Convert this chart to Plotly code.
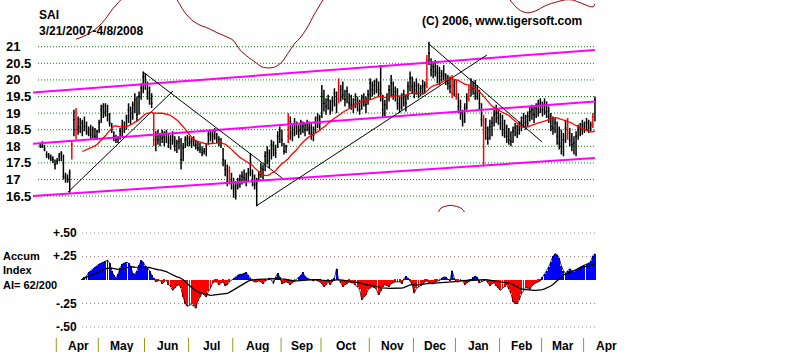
import plotly.graph_objects as go
import pandas as pd

# ---------------- data ----------------
high = [18.10, 18.15, 18.05, 17.85, 17.80, 17.75, 17.70, 17.60, 17.65, 17.80, 17.85, 17.75, 17.20, 17.15, 17.30, 18.15, 19.10, 19.15, 18.90, 18.85,
        18.80, 18.90, 18.75, 18.60, 18.65, 18.60, 18.55, 18.50, 18.80, 19.25, 19.30, 19.30, 19.25, 19.00, 18.70, 18.45, 18.35, 18.30, 18.55, 18.80,
        18.75, 18.95, 19.30, 19.20, 19.35, 19.60, 19.50, 19.65, 19.90, 20.25, 20.20, 19.95, 19.80, 19.60, 19.00, 18.45, 18.50, 18.40, 18.50, 18.45,
        18.50, 18.40, 18.35, 18.45, 18.30, 18.20, 18.30, 18.25, 18.10, 18.30, 18.35, 18.30, 18.25, 18.30, 18.20, 18.15, 18.10, 18.00, 17.95, 18.10,
        18.45, 18.50, 18.45, 18.55, 18.40, 18.30, 18.25, 17.95, 17.60, 17.45, 17.40, 17.20, 17.05, 16.95, 17.05, 17.15, 17.25, 17.30, 17.20, 17.35,
        17.80, 17.30, 17.15, 17.05, 17.25, 17.50, 17.45, 17.85, 18.00, 17.90, 18.20, 18.15, 18.05, 18.45, 18.60, 18.50, 18.10, 18.05, 19.00, 18.90,
        18.70, 18.85, 18.75, 18.65, 18.80, 18.75, 18.70, 18.80, 18.75, 18.70, 18.60, 18.90, 19.00, 18.95, 19.85, 19.70, 19.45, 19.55, 19.40, 19.50,
        19.75, 19.65, 20.05, 19.85, 19.95, 19.70, 19.80, 19.60, 19.55, 19.45, 19.60, 19.50, 19.40, 19.55, 19.60, 19.50, 19.70, 20.05, 19.95, 20.00,
        20.05, 19.95, 20.45, 19.55, 19.40, 19.60, 19.85, 20.15, 19.95, 19.80, 19.75, 19.50, 19.60, 19.70, 19.55, 19.95, 20.25, 20.10, 19.95, 20.05,
        19.90, 19.85, 20.00, 19.95, 20.75, 21.15, 20.65, 20.55, 20.60, 20.45, 20.40, 20.30, 20.45, 20.20, 20.15, 20.10,
        20.15, 20.00, 20.00, 19.60,
        19.40, 19.10, 19.30, 19.60, 19.85, 20.05, 19.95, 20.00, 19.85, 19.70, 19.30, 18.95, 18.85, 18.60, 18.80, 18.90, 19.10, 19.25, 19.15, 19.00,
        18.95, 18.80, 18.65, 18.55, 18.45, 18.60, 18.70, 18.65, 18.75, 18.90, 19.00, 18.95, 19.05, 19.20, 19.25, 19.20, 19.30, 19.40, 19.45, 19.35,
        19.45, 19.35, 19.20, 19.00, 18.90, 18.85, 18.75, 18.60, 18.50, 18.40, 18.80, 18.85, 18.55, 18.40, 18.30, 18.45, 18.65, 18.70, 18.80, 18.75,
        18.85, 18.80, 18.75, 19.00, 19.50]
low = [17.95, 17.95, 17.85, 17.65, 17.60, 17.55, 17.50, 17.30, 17.45, 17.55, 17.55, 17.00, 16.90, 16.90, 16.60, 17.60, 18.30, 18.20, 18.35, 18.40,
       18.30, 18.45, 18.35, 18.30, 18.20, 18.25, 18.20, 18.20, 18.40, 18.70, 18.85, 18.90, 18.75, 18.60, 18.40, 18.15, 18.10, 18.10, 18.20, 18.30,
       18.40, 18.50, 18.70, 18.65, 18.80, 19.00, 18.75, 18.95, 19.40, 19.60, 19.70, 19.40, 19.25, 19.15, 18.00, 17.85, 18.05, 18.00, 18.10, 18.00,
       18.10, 17.95, 17.90, 18.05, 17.85, 17.80, 17.90, 17.30, 17.55, 17.95, 18.00, 18.00, 17.95, 18.00, 17.90, 17.85, 17.80, 17.70, 17.75, 17.70,
       18.05, 18.15, 18.10, 18.20, 18.10, 18.00, 17.95, 17.40, 17.10, 16.80, 16.85, 16.70, 16.45, 16.40, 16.70, 16.75, 16.85, 16.90, 16.80, 16.95,
       17.10, 16.80, 16.70, 16.20, 16.95, 17.05, 17.00, 17.25, 17.45, 17.35, 17.60, 17.70, 17.65, 17.95, 18.10, 18.00, 17.75, 17.80, 18.10, 18.20,
       18.15, 18.30, 18.35, 18.25, 18.35, 18.40, 18.30, 18.45, 18.35, 18.20, 18.15, 18.40, 18.55, 18.50, 18.85, 19.05, 18.95, 19.10, 18.95, 19.05,
       19.20, 19.00, 19.30, 19.35, 19.40, 19.20, 19.30, 19.15, 19.10, 19.00, 19.15, 19.05, 18.95, 19.10, 19.20, 19.00, 19.25, 19.40, 19.50, 19.55,
       19.60, 19.50, 19.35, 18.85, 18.90, 19.10, 19.35, 19.50, 19.40, 19.35, 19.10, 19.00, 19.10, 19.20, 19.05, 19.40, 19.65, 19.60, 19.45, 19.55,
       19.45, 19.50, 19.55, 19.60, 19.75, 20.45, 20.10, 20.05, 20.10, 19.90, 19.85, 19.95, 20.00, 19.85, 19.70, 19.60,
       19.45, 19.50, 19.40, 19.00,
       18.80, 18.60, 18.70, 19.10, 19.35, 19.50, 19.55, 19.40, 19.40, 19.10, 18.60, 17.40, 18.20, 18.05, 18.20, 18.30, 18.60, 18.70, 18.65, 18.50,
       18.30, 18.25, 18.10, 18.05, 18.00, 18.10, 18.30, 18.25, 18.35, 18.45, 18.55, 18.50, 18.60, 18.75, 18.80, 18.70, 18.85, 18.90, 19.00, 18.90,
       18.95, 18.85, 18.70, 18.45, 18.35, 18.40, 18.05, 17.90, 17.75, 17.70, 18.10, 18.20, 18.00, 17.85, 17.75, 17.70, 18.20, 18.30, 18.35, 18.40,
       18.45, 18.40, 18.45, 18.55, 18.75]
close = [18.05, 18.00, 17.90, 17.75, 17.70, 17.65, 17.60, 17.45, 17.55, 17.70, 17.80, 17.10, 17.05, 17.00, 17.20, 18.05, 18.80, 18.50, 18.60, 18.55,
         18.70, 18.60, 18.45, 18.40, 18.35, 18.50, 18.30, 18.45, 18.70, 19.10, 19.20, 19.05, 18.95, 18.70, 18.50, 18.30, 18.20, 18.25, 18.45, 18.60,
         18.55, 18.85, 19.10, 18.90, 19.25, 19.40, 18.95, 19.50, 19.75, 20.10, 19.85, 19.60, 19.45, 19.30, 18.20, 18.30, 18.20, 18.35, 18.25, 18.30,
         18.40, 18.10, 18.20, 18.30, 18.00, 18.10, 18.15, 17.60, 17.95, 18.20, 18.25, 18.10, 18.15, 18.20, 18.05, 17.95, 17.90, 17.80, 17.85, 18.00,
         18.35, 18.40, 18.30, 18.45, 18.25, 18.20, 18.10, 17.60, 17.30, 16.95, 17.25, 16.90, 16.75, 16.80, 16.90, 17.00, 17.10, 17.05, 16.95, 17.20,
         17.50, 16.95, 16.85, 16.90, 17.15, 17.35, 17.30, 17.70, 17.80, 17.55, 18.05, 17.90, 17.80, 18.30, 18.45, 18.20, 17.85, 18.00, 18.30, 18.75,
         18.40, 18.65, 18.60, 18.45, 18.70, 18.60, 18.50, 18.70, 18.55, 18.40, 18.35, 18.75, 18.85, 18.70, 19.50, 19.30, 19.20, 19.40, 19.15, 19.35,
         19.60, 19.25, 19.45, 19.70, 19.55, 19.40, 19.65, 19.30, 19.25, 19.20, 19.40, 19.30, 19.10, 19.45, 19.35, 19.25, 19.55, 19.90, 19.70, 19.85,
         19.95, 19.70, 19.60, 19.10, 19.25, 19.45, 19.70, 19.90, 19.55, 19.65, 19.30, 19.20, 19.45, 19.55, 19.30, 19.80, 20.05, 19.80, 19.70, 19.85,
         19.60, 19.75, 19.80, 19.85, 20.60, 20.80, 20.30, 20.40, 20.25, 20.20, 20.10, 20.20, 20.15, 20.00, 19.90, 19.80,
         19.60, 19.80, 19.55, 19.20,
         19.00, 18.75, 19.15, 19.45, 19.70, 19.80, 19.75, 19.60, 19.70, 19.30, 18.80, 18.40, 18.55, 18.25, 18.60, 18.70, 18.95, 19.00, 18.85, 18.70,
         18.50, 18.40, 18.30, 18.20, 18.15, 18.45, 18.55, 18.40, 18.60, 18.75, 18.85, 18.70, 18.90, 19.05, 19.10, 18.95, 19.15, 19.25, 19.30, 19.10,
         19.25, 19.05, 18.90, 18.60, 18.55, 18.70, 18.30, 18.10, 18.00, 18.20, 18.55, 18.40, 18.20, 18.05, 18.10, 18.30, 18.50, 18.55, 18.65, 18.60,
         18.70, 18.55, 18.65, 18.90, 19.40]
red_bars = [15, 17, 54, 90, 118, 142, 184, 196, 198, 204, 211, 251, 263]

ai_start = 20
ai = [0.01, 0.03, 0.04, 0.08, 0.10, 0.12, 0.14, 0.15, 0.17, 0.18,
      0.19, 0.20, 0.21, 0.18, 0.10, 0.05, 0.02, 0.06, 0.13, 0.17,
      0.18, 0.19, 0.18, 0.15, 0.07, 0.06, 0.10, 0.16, 0.21, 0.19,
      0.15, 0.13, 0.10, 0.05, 0.02, -0.02, -0.01, 0.00, -0.04, -0.02,
      0.00, -0.05, -0.07, -0.11, -0.08, -0.06, -0.05, -0.09, -0.18, -0.25,
      -0.28, -0.27, -0.26, -0.28, -0.30, -0.22, -0.18, -0.14, -0.16, -0.18,
      -0.12, -0.09, -0.03, -0.02, -0.02, -0.05, -0.03, -0.02, -0.06, -0.05,
      -0.02, 0.00, 0.02, 0.035, 0.05, 0.06, 0.06, 0.07, 0.08, 0.05,
      0.02, -0.01, -0.02, -0.02, -0.01, -0.02, -0.04, -0.01, 0.00, 0.02,
      0.00, -0.04, 0.03, 0.07, 0.03, -0.04, -0.03, -0.02, -0.03, -0.05,
      -0.03, -0.01, 0.00, 0.03, 0.05, 0.08, 0.04, 0.02, 0.01, 0.00,
      -0.01, 0.00, -0.01, -0.02, -0.04, -0.07, -0.05, -0.02, -0.05, -0.02,
      0.02, 0.12, 0.00, -0.03, -0.07, -0.05, -0.04, -0.02, -0.03, -0.03,
      -0.05, -0.07, -0.10, -0.21, -0.18, -0.16, -0.10, -0.09, -0.07, -0.08,
      -0.10, -0.16, -0.12, -0.07, -0.05, -0.06, -0.07, -0.04, -0.03, -0.02,
      -0.02, -0.02, -0.04, 0.01, 0.04, 0.02, -0.01, -0.05, -0.14, -0.09,
      -0.07, -0.06, -0.05, -0.02, -0.01, -0.03, -0.04, -0.04, -0.02, -0.01,
      -0.01, 0.02, 0.03, 0.03, 0.01, -0.01, 0.10, 0.02, -0.02, -0.02,
      -0.01, 0.00, -0.05, -0.03, -0.02, 0.01, 0.03, 0.04, 0.03, -0.03,
      -0.02, -0.01, 0.00, -0.03, -0.06, -0.04, -0.03, -0.06, -0.08, -0.11,
      -0.09, -0.07, -0.05, -0.10, -0.14, -0.23, -0.25, -0.25, -0.21, -0.15,
      -0.11, -0.08, -0.09, -0.10, -0.06, -0.04, -0.03, -0.02, -0.01, 0.03,
      0.06, 0.10, 0.14, 0.19, 0.25, 0.28, 0.27, 0.23, 0.15, 0.10,
      0.07, 0.10, 0.12, 0.10, 0.09, 0.11, 0.13, 0.14, 0.15, 0.16,
      0.17, 0.18, 0.20, 0.26, 0.28]

month_starts = [8, 28, 50, 71, 92, 115, 134, 157, 178, 198, 219, 239, 259]
month_names = ["Apr", "May", "Jun", "Jul", "Aug", "Sep", "Oct", "Nov", "Dec", "Jan", "Feb", "Mar", "Apr"]
price_ticks = [21, 20.5, 20, 19.5, 19, 18.5, 18, 17.5, 17, 16.5]
price_tick_text = ["21", "20.5", "20", "19.5", "19", "18.5", "18", "17.5", "17", "16.5"]
ai_ticks = [0.5, 0.25, -0.25, -0.5]
ai_tick_text = ["+.50", "+.25", "-.25", "-.50"]

channel_x = [-3.5, 264]
channel_upper = [19.62, 20.90]
channel_middle = [18.08, 19.35]
channel_lower = [16.50, 17.65]

trend_x = [[13.2, 63.2], [48.9, 115.0], [102.7, 212.6], [184.5, 238.8]]
trend_y = [[16.62, 19.67], [20.24, 17.05], [16.20, 20.75], [21.11, 18.13]]

osc_x = [17.0, 19.8, 22.7, 25.6, 28.4, 31.3, 34.1, 37.0, 40.3, 47.5, 57.0, 62.7, 65.1, 68.9, 72.7, 76.0, 79.8, 83.6,
         87.9, 91.7, 95.1, 98.9, 102.2, 105.5, 108.9, 111.7, 115.0, 118.9, 121.2, 123.6, 126.9, 130.3, 133.1, 136.0, 140.3,
         None, 185.5, 188.8, 190.7, 193.1, 195.0, 197.4, 200.2, 202.6, 205.5,
         None, 218.8, 222.1, 223.6, 225.5, 227.4, 229.8, 232.1, 234.5, 236.9, 239.3, 242.6, 245.9, 249.7, 253.1, 255.9,
         258.3, 260.7, 263.1, 264.0]
osc_y = [21.23, 21.29, 21.38, 21.50, 21.65, 21.86, 22.11, 22.32, 22.56, 23.31, 23.31, 22.65, 22.41, 22.02, 21.77, 21.65, 21.56, 21.44,
         21.32, 21.20, 20.90, 20.69, 20.54, 20.39, 20.36, 20.39, 20.54, 20.90, 21.11, 21.26, 21.56, 21.96, 22.26, 22.56, 23.16,
         None, 15.18, 15.93, 16.14, 16.20, 16.22, 16.20, 16.14, 15.96, 15.33,
         None, 23.31, 22.62, 22.41, 22.26, 22.14, 22.05, 22.02, 22.05, 22.11, 22.20, 22.29, 22.35, 22.41, 22.41, 22.35,
         22.29, 22.23, 22.20, 22.29]

# ---------------- derived ----------------
n = len(close)
idx = list(range(n))
ma21 = pd.Series(close).rolling(21).mean()
ai_x = list(range(ai_start, ai_start + len(ai)))
ai_ma = pd.Series(ai).rolling(21, min_periods=1).mean()

# ---------------- layout geometry ----------------
W, H = 800, 352
X0_PX, PX_PER_BAR = 40.3, 2.101
x_range = [-X0_PX / PX_PER_BAR, (W - X0_PX) / PX_PER_BAR]
price_dom = [1 - 212 / H, 1.0]
price_rng = [16.021, 22.407]
ai_dom = [1 - 335 / H, 1 - 215 / H]
ai_rng = [-0.585, 0.691]

FONT = "Liberation Sans, Arial, sans-serif"
fig = go.Figure()

black_i = [i for i in idx if i not in red_bars]
for sel, col in ((black_i, "black"), (red_bars, "#ff0000")):
    fig.add_trace(go.Ohlc(
        x=sel, open=[close[i] for i in sel], high=[high[i] for i in sel],
        low=[low[i] for i in sel], close=[close[i] for i in sel],
        increasing=dict(line=dict(color=col, width=1.5)),
        decreasing=dict(line=dict(color=col, width=1.5)),
        tickwidth=0.45, xaxis="x", yaxis="y", hoverinfo="skip"))

# channel lines
for ch in (channel_upper, channel_middle, channel_lower):
    fig.add_trace(go.Scatter(x=channel_x, y=ch, mode="lines",
                             line=dict(color="#ff00ff", width=2), yaxis="y", hoverinfo="skip"))
# trend lines
for tx, ty in zip(trend_x, trend_y):
    fig.add_trace(go.Scatter(x=tx, y=ty, mode="lines",
                             line=dict(color="black", width=1), yaxis="y", hoverinfo="skip"))
# moving average
fig.add_trace(go.Scatter(x=idx, y=ma21, mode="lines",
                         line=dict(color="#ff0000", width=1.3), yaxis="y", hoverinfo="skip"))
# dark red oscillator
fig.add_trace(go.Scatter(x=osc_x, y=osc_y, mode="lines", connectgaps=False,
                         line=dict(color="#8b0000", width=1, shape="spline", smoothing=0.6),
                         yaxis="y", hoverinfo="skip"))

# AI panel
ai_colors = ["#0000ff" if v > 0 else "#ff0000" for v in ai]
fig.add_trace(go.Bar(x=ai_x, y=ai, base=0, width=0.45, marker=dict(color=ai_colors, line=dict(width=0)),
                     yaxis="y2", hoverinfo="skip"))
fig.add_trace(go.Scatter(x=ai_x, y=ai, mode="lines", line=dict(color="black", width=0.8),
                         yaxis="y2", hoverinfo="skip"))
fig.add_trace(go.Scatter(x=ai_x, y=ai_ma, mode="lines", line=dict(color="black", width=1.3),
                         yaxis="y2", hoverinfo="skip"))

shapes = []
for t in price_ticks:
    shapes.append(dict(type="line", xref="x", yref="y", x0=-1.1, x1=264.5, y0=t, y1=t,
                       line=dict(color="#008000", width=1, dash="1px,2px"), layer="below"))
for t in ai_ticks:
    shapes.append(dict(type="line", xref="x", yref="y2", x0=19.9, x1=264.5, y0=t, y1=t,
                       line=dict(color="#a07878", width=1, dash="1px,3px"), layer="below"))
for m in month_starts:
    shapes.append(dict(type="line", xref="x", yref="paper", x0=m - 0.4, x1=m - 0.4, y0=0, y1=14 / H,
                       line=dict(color="#9a9a10", width=1)))

ann = []
def txt(x, y, s, size=12, xanchor="left", xref="paper", yref="paper"):
    ann.append(dict(x=x, y=y, xref=xref, yref=yref, text=s, showarrow=False, align="left",
                    xanchor=xanchor, yanchor="middle",
                    font=dict(family=FONT, size=size, color="black", weight="bold")))

for t, s in zip(price_ticks, price_tick_text):
    txt(4 / W, t, s, size=13, yref="y")
for t, s in zip(ai_ticks, ai_tick_text):
    txt(79 / W, t, s, size=12, xanchor="right", yref="y2")
ends = month_starts[1:] + [month_starts[-1] + 21]
for a, b, s in zip(month_starts, ends, month_names):
    txt((a + b) / 2, 1 - 346 / H, s, size=12, xanchor="center", xref="x")

txt(37 / W, 1 - 23 / H, "SAI<br>3/21/2007-4/8/2008", size=12)
txt(420 / W, 1 - 21 / H, "(C) 2006, www.tigersoft.com", size=12)
txt(1 / W, 1 - 270 / H, "Accum<br>Index<br>AI= 62/200", size=11)

fig.update_layout(
    width=W, height=H, margin=dict(l=0, r=0, t=0, b=0),
    paper_bgcolor="white", plot_bgcolor="white", showlegend=False,
    xaxis=dict(range=x_range, domain=[0, 1], visible=False, rangeslider=dict(visible=False), anchor="y2"),
    yaxis=dict(range=price_rng, domain=price_dom, visible=False),
    yaxis2=dict(range=ai_rng, domain=ai_dom, visible=False),
    shapes=shapes, annotations=ann, bargap=0,
)
fig.write_html("out.html")
